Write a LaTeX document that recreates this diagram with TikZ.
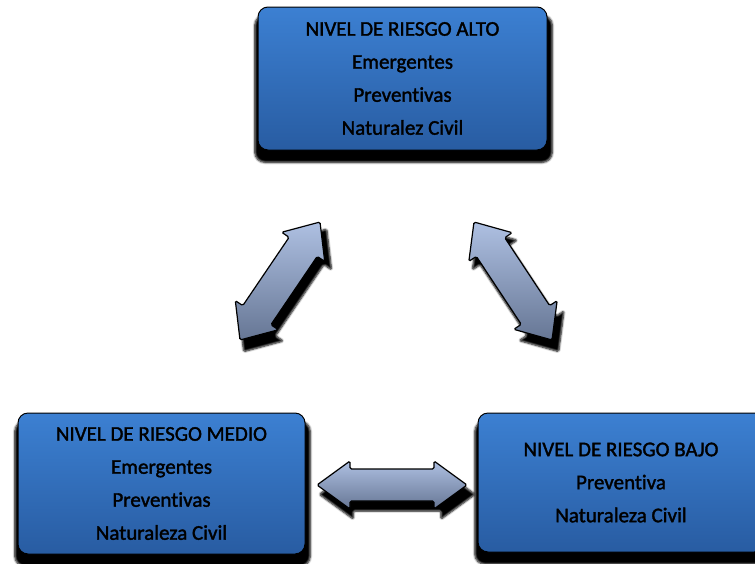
\documentclass[tikz,border=0pt]{standalone}
\usepackage{fontspec}
\setmainfont{Carlito}[Ligatures=NoCommon, FakeBold=1.6]
\usetikzlibrary{calc,shadows.blur}
\definecolor{boxtop}{RGB}{60,128,210}
\definecolor{boxbot}{RGB}{40,92,162}
\definecolor{arrtop}{RGB}{174,192,226}
\definecolor{arrbot}{RGB}{102,118,148}
\tikzset{
  riskbox/.style={rectangle, rounded corners=10pt, top color=boxtop, bottom color=boxbot,
    draw=black, line width=1pt, align=center, font=\fontsize{21}{33}\selectfont,
    text=black, inner sep=0pt,
    blur shadow={shadow xshift=1pt, shadow yshift=-10pt, shadow scale=1.03,
      shadow blur radius=2pt, shadow blur steps=6, shadow opacity=100}},
  blockarrow/.style={top color=arrtop, bottom color=arrbot, draw=black, line width=1.2pt,
    rounded corners=1.5pt,
    blur shadow={shadow xshift=5pt, shadow yshift=-9pt, shadow scale=1.04,
      shadow blur radius=1.8pt, shadow blur steps=6, shadow opacity=100}}
}
% #1 = end A, #2 = end B, #3 = head length, #4 = head half width, #5 = shaft half width
\newcommand{\dblblockarrow}[5]{%
  \path[blockarrow] (#1)
    -- ($(#1)!#3!(#2)!#4!90:(#2)$)
    -- ($(#1)!#3!(#2)!#5!90:(#2)$)
    -- ($(#2)!#3!(#1)!#5!-90:(#1)$)
    -- ($(#2)!#3!(#1)!#4!-90:(#1)$)
    -- (#2)
    -- ($(#2)!#3!(#1)!#4!90:(#1)$)
    -- ($(#2)!#3!(#1)!#5!90:(#1)$)
    -- ($(#1)!#3!(#2)!#5!-90:(#2)$)
    -- ($(#1)!#3!(#2)!#4!-90:(#2)$)
    -- cycle;}
\begin{document}
\begin{tikzpicture}[x=1pt, y=-1pt]
  \useasboundingbox (0,0) rectangle (755,563);
  \clip (0,0) rectangle (755,563);

  \node[riskbox, minimum width=289pt, minimum height=143pt] (alto) at (402.5,78.5)
    {NIVEL DE RIESGO ALTO\\Emergentes\\Preventivas\\Naturalez Civil};
  \node[riskbox, minimum width=287pt, minimum height=141pt] (medio) at (161.5,483.5)
    {NIVEL DE RIESGO MEDIO\\Emergentes\\Preventivas\\Naturaleza Civil};
  \node[riskbox, minimum width=286pt, minimum height=139pt] (bajo) at (621,482.5)
    {NIVEL DE RIESGO BAJO\\Preventiva\\Naturaleza Civil};

  \coordinate (a1) at (240,340);
  \coordinate (a2) at (320,222);
  \coordinate (b1) at (474,222);
  \coordinate (b2) at (552,340);
  \coordinate (c1) at (317,485);
  \coordinate (c2) at (467,485);

  \dblblockarrow{a1}{a2}{30pt}{26pt}{17pt}
  \dblblockarrow{b1}{b2}{30pt}{26pt}{17pt}
  \dblblockarrow{c1}{c2}{33pt}{24pt}{16pt}
\end{tikzpicture}
\end{document}
